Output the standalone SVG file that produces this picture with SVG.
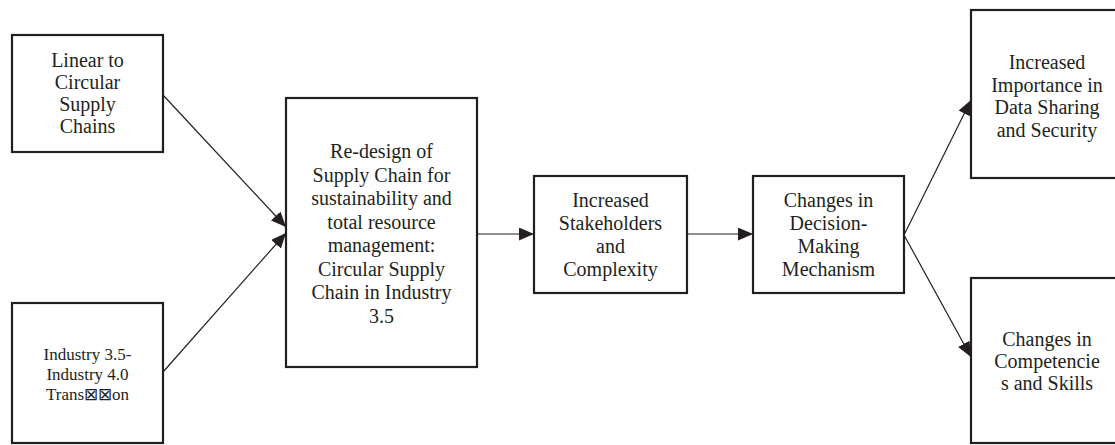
<svg xmlns="http://www.w3.org/2000/svg" width="1115" height="445" viewBox="0 0 1115 445">
<style>
.box{fill:#fff;stroke:#231f20;stroke-width:2.2}
.t{font-family:"Liberation Serif","Times New Roman",serif;font-size:20px;fill:#231f20;text-anchor:middle}
.s{font-size:17px}
.c{fill:none;stroke:#231f20;stroke-width:1.2}
</style>
<defs>
<marker id="ah" markerWidth="16" markerHeight="14" refX="15" refY="6.5" orient="auto" markerUnits="userSpaceOnUse">
<path d="M0,0 L15,6.5 L0,13 Z" fill="#231f20"/>
</marker>
</defs>
<rect width="1115" height="445" fill="#fff"/>
<g id="n1"><rect class="box" x="12" y="35" width="151" height="117"/>
<text class="t" x="87.5" y="67">Linear to</text>
<text class="t" x="87.5" y="89">Circular</text>
<text class="t" x="87.5" y="111">Supply</text>
<text class="t" x="87.5" y="133">Chains</text></g>
<g id="n2"><rect class="box" x="12" y="303" width="151" height="140"/>
<text class="t s" x="87.5" y="360">Industry 3.5-</text>
<text class="t s" x="87.5" y="380">Industry 4.0</text>
<text class="t s" x="87.5" y="400">Trans⊠⊠on</text></g>
<g id="n3"><rect class="box" x="286" y="98" width="191" height="269"/>
<text class="t" x="381.5" y="158">Re-design of</text>
<text class="t" x="381.5" y="181.5">Supply Chain for</text>
<text class="t" x="381.5" y="205">sustainability and</text>
<text class="t" x="381.5" y="228.5">total resource</text>
<text class="t" x="381.5" y="252">management:</text>
<text class="t" x="381.5" y="275.5">Circular Supply</text>
<text class="t" x="381.5" y="299">Chain in Industry</text>
<text class="t" x="381.5" y="322.5">3.5</text></g>
<g id="n4"><rect class="box" x="534" y="176" width="153" height="117"/>
<text class="t" x="610.5" y="207">Increased</text>
<text class="t" x="610.5" y="230">Stakeholders</text>
<text class="t" x="610.5" y="253">and</text>
<text class="t" x="610.5" y="276">Complexity</text></g>
<g id="n5"><rect class="box" x="753" y="176" width="151" height="117"/>
<text class="t" x="828.5" y="207">Changes in</text>
<text class="t" x="828.5" y="230">Decision-</text>
<text class="t" x="828.5" y="253">Making</text>
<text class="t" x="828.5" y="276">Mechanism</text></g>
<g id="n6"><rect class="box" x="971" y="10" width="160" height="168"/>
<text class="t" x="1047" y="69">Increased</text>
<text class="t" x="1047" y="92">Importance in</text>
<text class="t" x="1047" y="114">Data Sharing</text>
<text class="t" x="1047" y="137">and Security</text></g>
<g id="n7"><rect class="box" x="971" y="278" width="160" height="165"/>
<text class="t" x="1047" y="346">Changes in</text>
<text class="t" x="1047" y="368">Competencie</text>
<text class="t" x="1047" y="390">s and Skills</text></g>
<g id="connectors">
<line class="c" x1="163" y1="95" x2="286" y2="227" marker-end="url(#ah)"/>
<line class="c" x1="163" y1="372" x2="286" y2="233" marker-end="url(#ah)"/>
<line class="c" x1="477" y1="234" x2="534" y2="234" marker-end="url(#ah)"/>
<line class="c" x1="687" y1="234" x2="753" y2="234" marker-end="url(#ah)"/>
<line class="c" x1="904" y1="235" x2="971" y2="100" marker-end="url(#ah)"/>
<line class="c" x1="904" y1="235" x2="971" y2="357" marker-end="url(#ah)"/>
</g>
</svg>
